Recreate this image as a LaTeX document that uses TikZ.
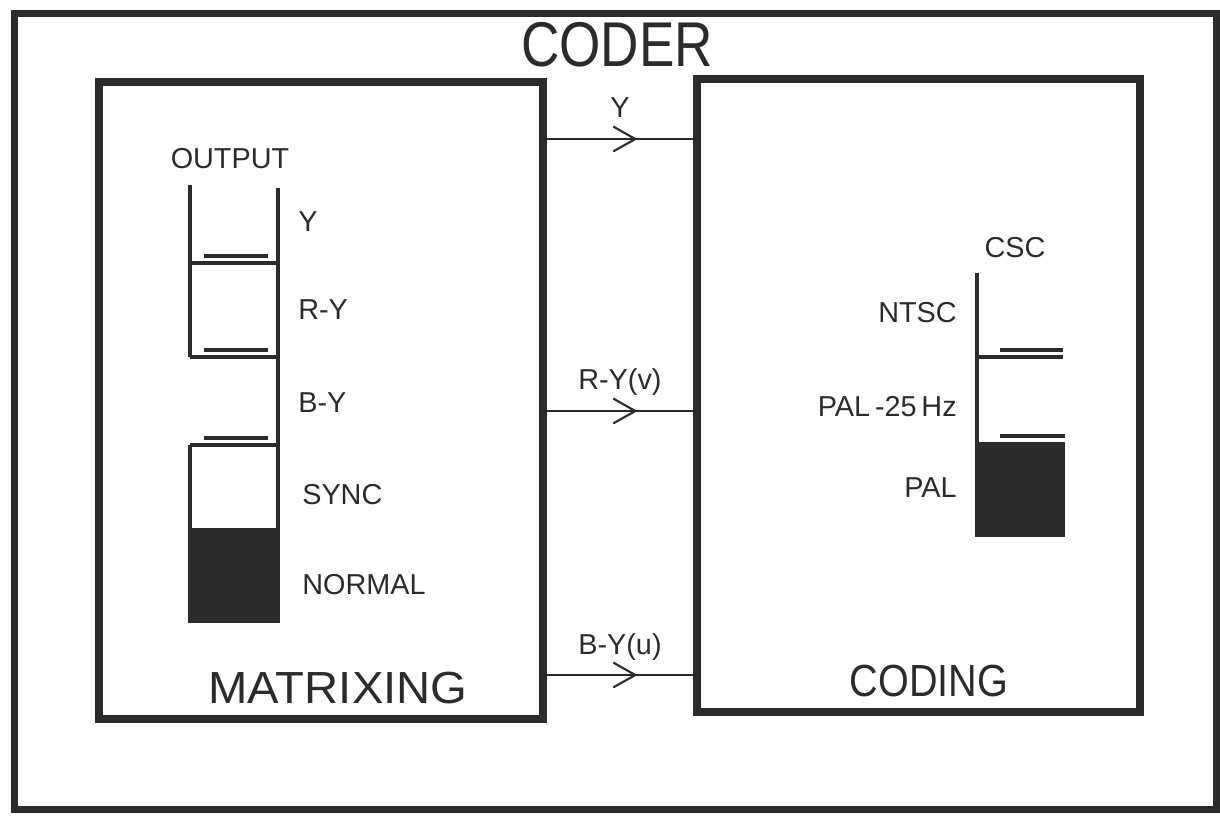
\documentclass[tikz,border=0pt]{standalone}
\usepackage{fontspec}
\setmainfont{Liberation Sans}
\usepackage{tikz}
\usetikzlibrary{arrows.meta, decorations.markings}
\definecolor{ink}{gray}{0.17}
\tikzstyle{frame} = [rectangle, draw=ink, line width=5pt, minimum width=30.03cm, minimum height=19.88cm, inner sep=0pt]
\tikzstyle{unit} = [rectangle, draw=ink, line width=5.7pt, minimum width=11.1cm, minimum height=15.93cm, inner sep=0pt]
\tikzstyle{big} = [font=\fontsize{32}{38}\selectfont, text=ink, inner sep=0pt]
\tikzstyle{lbl} = [font=\fontsize{20.5}{24}\selectfont, text=ink, inner sep=0pt]
\tikzstyle{sig} = [draw=ink, line width=1.5pt, postaction={decorate}, decoration={markings, mark=at position 0.62 with {\arrow{Straight Barb[length=0.55cm, width=0.62cm]}}}]
\tikzstyle{strip} = [draw=ink, line width=2.8pt]
\tikzstyle{bar} = [draw=ink, line width=3pt]

\begin{document}
\begin{tikzpicture}[x=0.025cm, y=-0.025cm]
\useasboundingbox (0,0) rectangle (1220,816);
\node [frame] (coder) at (615.5,411.5) {};
\node [big, font=\fontsize{45}{54}\selectfont, xscale=0.84] (title) at (617,45) {CODER};

\node [unit] (matrixing) at (321,400.5) {};
\node [unit, minimum width=11.08cm, minimum height=15.83cm] (coding) at (918.5,395.5) {};
\node [big, xscale=1.05] (mname) at (338,688) {MATRIXING};
\node [big, xscale=0.88] (cname) at (929,681) {CODING};

\coordinate (ysig) at (0,139);
\coordinate (vsig) at (0,411);
\coordinate (usig) at (0,675);
\draw [sig] (matrixing.east |- ysig) -- node[lbl, anchor=base, yshift=0.53cm] (ylab) {Y} (coding.west |- ysig);
\draw [sig] (matrixing.east |- vsig) -- node[lbl, anchor=base, yshift=0.53cm] (vlab) {R-Y(v)} (coding.west |- vsig);
\draw [sig] (matrixing.east |- usig) -- node[lbl, anchor=base, yshift=0.52cm] (ulab) {B-Y(u)} (coding.west |- usig);

\node [lbl] (outlab) at (230,159) {OUTPUT};
\draw [strip] (190,185) -- (190,357);
\draw [strip] (190,445) -- (190,623);
\draw [strip] (278,188) -- (278,623);
\foreach \y in {263,357,445} {
  \draw [strip] (190,\y) -- (278,\y);
  \draw [bar] (204,\y-7) -- (268,\y-7);
}
\fill [ink] (189,528) rectangle (280,623);
\node [lbl, anchor=west] (oy) at (298,222) {Y};
\node [lbl, anchor=west] (ory) at (298,310) {R-Y};
\node [lbl, anchor=west] (oby) at (298,403) {B-Y};
\node [lbl, anchor=west] (osync) at (302,495) {SYNC};
\node [lbl, anchor=west] (onormal) at (302,585) {NORMAL};

\node [lbl] (csc) at (1015,248) {CSC};
\draw [strip] (977,273) -- (977,537);
\draw [strip] (977,357) -- (1063,357);
\draw [bar] (1000,350) -- (1063,350);
\fill [ink] (975,442) rectangle (1065,537);
\draw [bar] (1000,436) -- (1065,436);
\node [lbl, anchor=east] (ntsc) at (957,313) {NTSC};
\node [lbl, anchor=east] (pal25) at (957,407) {PAL\,-25\,Hz};
\node [lbl, anchor=east] (pal) at (957,488) {PAL};
\end{tikzpicture}
\end{document}
